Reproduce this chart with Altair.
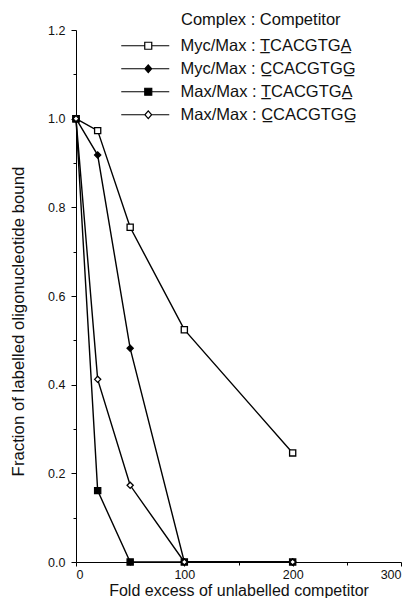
import altair as alt
import pandas as pd

# ---- data ----
series_names = [
    "Myc/Max : T\u0332CACGTGA\u0332",
    "Myc/Max : C\u0332CACGTGG\u0332",
    "Max/Max : T\u0332CACGTGA\u0332",
    "Max/Max : C\u0332CACGTGG\u0332",
]
x_myc_t = [0, 20, 50, 100, 200]
y_myc_t = [1.0, 0.973, 0.755, 0.524, 0.246]
x_myc_c = [0, 20, 50, 100, 200]
y_myc_c = [1.0, 0.918, 0.482, 0.0, 0.0]
x_max_t = [0, 20, 50, 100, 200]
y_max_t = [1.0, 0.161, 0.0, 0.0, 0.0]
x_max_c = [0, 20, 50, 100, 200]
y_max_c = [1.0, 0.412, 0.173, 0.0, 0.0]

rows = []
for name, xs, ys in zip(series_names,
                        [x_myc_t, x_myc_c, x_max_t, x_max_c],
                        [y_myc_t, y_myc_c, y_max_t, y_max_c]):
    for i, (xv, yv) in enumerate(zip(xs, ys)):
        rows.append({"series": name, "x": xv, "y": yv, "i": i})
df = pd.DataFrame(rows)

# ---- styles ----
marker_shapes = ["square", "diamond", "square", "diamond"]
marker_fills = ["white", "black", "black", "white"]
sq = "M-44.5,-3.5 L-37.5,-3.5 L-37.5,3.5 L-44.5,3.5 Z"
dm = "M-41,-3.8 L-37.6,0 L-41,3.8 L-44.4,0 Z"
line_part = "M-68,0 L-44.5,0 M-37.5,0 L-20,0 "
legend_paths = [line_part + sq, line_part + dm, line_part + sq, line_part + dm]


def lookup_expr(values):
    parts = []
    for n, v in zip(series_names, values):
        parts.append(f"datum.series === '{n}' ? '{v}' : ")
    return "".join(parts) + f"'{values[0]}'"


FONT = "Liberation Sans"

x_enc = alt.X("x:Q", scale=alt.Scale(domain=[0, 300], nice=False),
              axis=alt.Axis(values=[0, 50, 100, 150, 200, 250, 300],
                            labelExpr="datum.value % 100 == 0 ? datum.label : ''",
                            title="Fold excess of unlabelled competitor",
                            grid=False,
                            tickSize={"condition": {"test": "datum.value % 100 == 0", "value": 4}, "value": 3},
                            labelFontSize=12.5, titleFontSize=16, labelPadding=2,
                            titleBaseline="alphabetic", titleY=33,
                            labelFont=FONT, titleFont=FONT,
                            titleFontWeight="normal", domainColor="black",
                            tickColor="black", labelColor="#111", titleColor="#111"))
y_enc = alt.Y("y:Q", scale=alt.Scale(domain=[0, 1.2], nice=False),
              axis=alt.Axis(values=[round(v * 0.1, 1) for v in range(13)],
                            labelExpr="round(datum.value*10) % 2 == 0 ? format(datum.value, '.1f') : ''",
                            title="Fraction of labelled oligonucleotide bound",
                            grid=False,
                            tickSize={"condition": {"test": "round(datum.value*10) % 2 == 0", "value": 5}, "value": 3},
                            labelFontSize=12.5, titleFontSize=16.8, labelPadding=6,
                            titleX=-49, titleY=291, titleAngle=270, titleAlign="center",
                            titleBaseline="bottom",
                            labelFont=FONT, titleFont=FONT,
                            titleFontWeight="normal", domainColor="black",
                            tickColor="black", labelColor="#111", titleColor="#111"))

base = alt.Chart(df)

lines = base.mark_line(color="black", strokeWidth=1.4).encode(
    x=x_enc, y=y_enc, detail="series:N", order="i:Q")

points = base.transform_calculate(
    shp=lookup_expr(marker_shapes), fil=lookup_expr(marker_fills)
).mark_point(filled=True, stroke="black", strokeWidth=1.3, size=38, opacity=1).encode(
    x="x:Q", y="y:Q",
    shape=alt.Shape("shp:N", scale=None),
    fill=alt.Fill("fil:N", scale=None),
)

legend_layer = base.transform_filter("datum.i < 0").mark_point(
    filled=True, stroke="black", strokeWidth=1.2, size=4, opacity=1).encode(
    x="x:Q", y="y:Q",
    shape=alt.Shape("series:N", scale=alt.Scale(domain=series_names, range=legend_paths),
                    legend=alt.Legend(title="Complex : Competitor", orient="none",
                                      legendX=105, legendY=-18,
                                      symbolSize=4, symbolStrokeColor="black",
                                      symbolStrokeWidth=1.2, symbolOpacity=1,
                                      labelOffset={"expr": "-17"}, rowPadding=6, titlePadding=9,
                                      labelFontSize=16.5, titleFontSize=16.5,
                                      labelFont=FONT, titleFont=FONT,
                                      titleFontWeight="normal", labelColor="#111",
                                      titleColor="#111", labelLimit=400)),
    fill=alt.Fill("series:N", scale=alt.Scale(domain=series_names, range=marker_fills)),
)

chart = alt.layer(lines, points, legend_layer).properties(
    width=325, height=532,
    autosize=alt.AutoSizeParams(type="none"),
    padding={"left": 68, "top": 22, "right": 4, "bottom": 36},
).configure_view(stroke=None)

chart.save("out.html", embed_options={"renderer": "svg", "actions": False})
